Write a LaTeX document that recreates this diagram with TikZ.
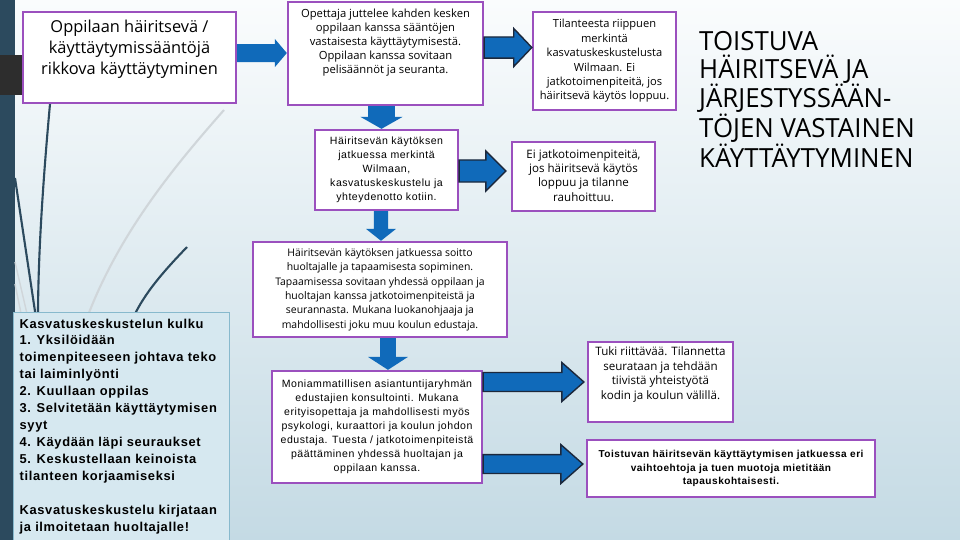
\documentclass[tikz,border=0pt]{standalone}
\usepackage{fontspec}
\setmainfont{Open Sans}
\newfontfamily\segoe{Open Sans}
\newfontfamily\titlefont[FakeStretch=0.98]{Open Sans}
\newfontfamily\arial[LetterSpace=5]{Liberation Sans}
\usetikzlibrary{calc}
\definecolor{boxpurple}{RGB}{155,80,190}
\definecolor{arrblue}{RGB}{16,106,186}
\definecolor{arrdark}{RGB}{28,40,60}
\definecolor{bgtop}{RGB}{250,252,253}
\definecolor{bgbot}{RGB}{196,218,228}
\definecolor{stripc}{RGB}{44,74,94}
\definecolor{blockc}{RGB}{45,45,45}
\definecolor{kfill}{RGB}{214,232,240}
\definecolor{kdraw}{RGB}{135,185,205}
\definecolor{decogray}{RGB}{208,214,218}
\newcommand{\topbox}[4]{\begin{minipage}[c][#2][t]{#1}\centering\vspace*{#3}#4\end{minipage}}
\newcommand{\midbox}[3]{\begin{minipage}[c][#2][c]{#1}\centering #3\end{minipage}}
\newcommand{\leftbox}[4]{\begin{minipage}[c][#2][t]{#1}\raggedright\vspace*{#3}#4\end{minipage}}
% horizontal block arrow: style, from, tip, y-reference, shaft half, head half, head length
\newcommand{\rarrow}[7]{\path[#1] let \p1=(#2), \p2=(#3), \p3=(#4) in
  (\x1,\y3+#5) -- (\x2-#7,\y3+#5) -- (\x2-#7,\y3+#6) -- (\x2,\y3) -- (\x2-#7,\y3-#6) -- (\x2-#7,\y3-#5) -- (\x1,\y3-#5) -- cycle;}
% vertical (down) block arrow: style, from, tip, x-reference, shaft half, head half, head length
\newcommand{\darrow}[7]{\path[#1] let \p1=(#2), \p2=(#3), \p3=(#4) in
  (\x3-#5,\y1) -- (\x3-#5,\y2+#7) -- (\x3-#6,\y2+#7) -- (\x3,\y2) -- (\x3+#6,\y2+#7) -- (\x3+#5,\y2+#7) -- (\x3+#5,\y1) -- cycle;}
\tikzset{
  pbox/.style={draw=boxpurple,line width=2pt,fill=white,inner sep=0pt},
  kbox/.style={draw=kdraw,line width=0.8pt,fill=kfill,inner sep=0pt},
  flatarrow/.style={fill=arrblue},
  edgearrow/.style={fill=arrblue,draw=arrdark,line width=1.2pt,line join=miter},
  deco/.style={draw=stripc,line width=1.8pt},
  decolight/.style={draw=decogray,line width=1.8pt},
  artext/.style={font=\arial\fontsize{9}{12}\selectfont}
}
\begin{document}
\begin{tikzpicture}[x=0.03cm,y=-0.03cm]
\useasboundingbox (0,0) rectangle (960,540);
\shade[top color=bgtop,bottom color=bgbot] (0,0) rectangle (960,540);
\fill[stripc] (0,0) rectangle (15,540);
\fill[blockc] (0,55) rectangle (23,95);
% decorative lines
\draw[decolight] (224,110) .. controls (180,160) and (120,230) .. (87,318);
\draw[decolight,line width=1.2pt] (15,262) -- (28,318);
\draw[decolight,line width=1.2pt] (15,284) -- (22,318);
\draw[deco] (50,104) .. controls (44,170) and (38,250) .. (38,318);
\draw[deco] (15,178) -- (36,318);
\draw[deco] (187,247) .. controls (165,270) and (145,292) .. (133,318);

% boxes
\node[pbox,font=\segoe\fontsize{14}{17.9}\selectfont] (A) at (129.5,57.5)
  {\topbox{6.39cm}{2.73cm}{0.24cm}{Oppilaan häiritsevä /\\ käyttäytymissääntöjä\\ rikkova käyttäytyminen}};
\node[pbox,font=\segoe\fontsize{9.6}{12}\selectfont] (B) at (385.5,53.5)
  {\topbox{5.85cm}{3.09cm}{0.2cm}{Opettaja juttelee kahden kesken\\ oppilaan kanssa sääntöjen\\ vastaisesta käyttäytymisestä.\\ Oppilaan kanssa sovitaan\\ pelisäännöt ja seuranta.}};
\node[pbox,font=\segoe\fontsize{9.5}{12.3}\selectfont] (C) at (604.5,61)
  {\topbox{4.29cm}{2.94cm}{0.22cm}{Tilanteesta riippuen\\ merkintä\\ kasvatuskeskustelusta\\ Wilmaan. Ei\\ jatkotoimenpiteitä, jos\\ häiritsevä käytös loppuu.}};
\node[pbox,artext] (D) at (386.5,170)
  {\midbox{4.29cm}{2.4cm}{Häiritsevän käytöksen\\ jatkuessa merkintä\\ Wilmaan,\\ kasvatuskeskustelu ja\\ yhteydenotto kotiin.}};
\node[pbox,font=\segoe\fontsize{9.9}{12.2}\selectfont] (E) at (583.5,176.5)
  {\midbox{4.29cm}{2.07cm}{Ei jatkotoimenpiteitä,\\ jos häiritsevä käytös\\ loppuu ja tilanne\\ rauhoittuu.\vspace*{0.06cm}}};
\node[pbox,font=\segoe\fontsize{8.9}{12.3}\selectfont] (F) at (380,289.5)
  {\midbox{7.62cm}{2.85cm}{Häiritsevän käytöksen jatkuessa soitto\\ huoltajalle ja tapaamisesta sopiminen.\\ Tapaamisessa sovitaan yhdessä oppilaan ja\\ huoltajan kanssa jatkotoimenpiteistä ja\\ seurannasta. Mukana luokanohjaaja ja\\ mahdollisesti joku muu koulun edustaja.}};
\node[pbox,artext] (G) at (377,427)
  {\midbox{6.3cm}{3.36cm}{Moniammatillisen asiantuntijaryhmän\\ edustajien konsultointi. Mukana\\ erityisopettaja ja mahdollisesti myös\\ psykologi, kuraattori ja koulun johdon\\ edustaja. Tuesta / jatkotoimenpiteistä\\ päättäminen yhdessä huoltajan ja\\ oppilaan kanssa.}};
\node[pbox,font=\segoe\fontsize{9.9}{12.4}\selectfont] (H) at (660.5,382)
  {\topbox{4.35cm}{2.4cm}{0.14cm}{Tuki riittävää. Tilannetta\\ seurataan ja tehdään\\ tiivistä yhteistyötä\\ kodin ja koulun välillä.}};
\node[pbox,font=\arial\bfseries\fontsize{8.6}{11.5}\selectfont] (I) at (731,468.5)
  {\midbox{8.64cm}{1.71cm}{Toistuvan häiritsevän käyttäytymisen jatkuessa eri\\ vaihtoehtoja ja tuen muotoja mietitään\\ tapauskohtaisesti.}};
\node[kbox,font=\arial\bfseries\fontsize{11}{14.5}\selectfont] (K) at (121,428.5)
  {\leftbox{6.48cm}{6.99cm}{0.2cm}{\hspace*{0.2cm}\parbox[t]{6.2cm}{\raggedright Kasvatuskeskustelun kulku\\ 1. Yksilöidään\\ toimenpiteeseen johtava teko\\ tai laiminlyönti\\ 2. Kuullaan oppilas\\ 3. Selvitetään käyttäytymisen\\ syyt\\ 4. Käydään läpi seuraukset\\ 5. Keskustellaan keinoista\\ tilanteen korjaamiseksi\\[14.5pt] Kasvatuskeskustelu kirjataan\\ ja ilmoitetaan huoltajalle!}}};
\node[anchor=north west,inner sep=0pt,align=left,font=\titlefont\fontsize{22.5}{23.8}\selectfont] (T) at (699,31)
  {TOISTUVA\\ HÄIRITSEVÄ JA\\ JÄRJESTYSSÄÄN-\\ TÖJEN VASTAINEN\\ KÄYTTÄYTYMINEN};

% arrows
\rarrow{flatarrow}{A.east}{B.west}{[yshift=3.8pt]A.east}{7.7pt}{12pt}{10.2pt}
\rarrow{edgearrow}{B.east}{C.west}{[yshift=5.1pt]B.east}{9pt}{16.2pt}{15.4pt}
\rarrow{edgearrow}{D.east}{[xshift=-4.3pt]E.west}{[yshift=-0.85pt]D.east}{9.4pt}{17pt}{17pt}
\rarrow{edgearrow}{G.east}{[xshift=-2.5pt]H.west}{H.west}{8.1pt}{16.6pt}{18.8pt}
\rarrow{edgearrow}{G.east}{[xshift=-2.5pt]I.west}{[yshift=3.8pt]I.west}{8.1pt}{16.6pt}{18.8pt}
\darrow{flatarrow}{B.south}{D.north}{[xshift=-3.4pt]B.south}{11.5pt}{18pt}{10.2pt}
\darrow{flatarrow}{D.south}{F.north}{[xshift=-4.7pt]D.south}{6pt}{12.8pt}{10.2pt}
\darrow{flatarrow}{F.south}{G.north}{[xshift=6.8pt]F.south}{6.8pt}{17pt}{11pt}
\end{tikzpicture}
\end{document}
